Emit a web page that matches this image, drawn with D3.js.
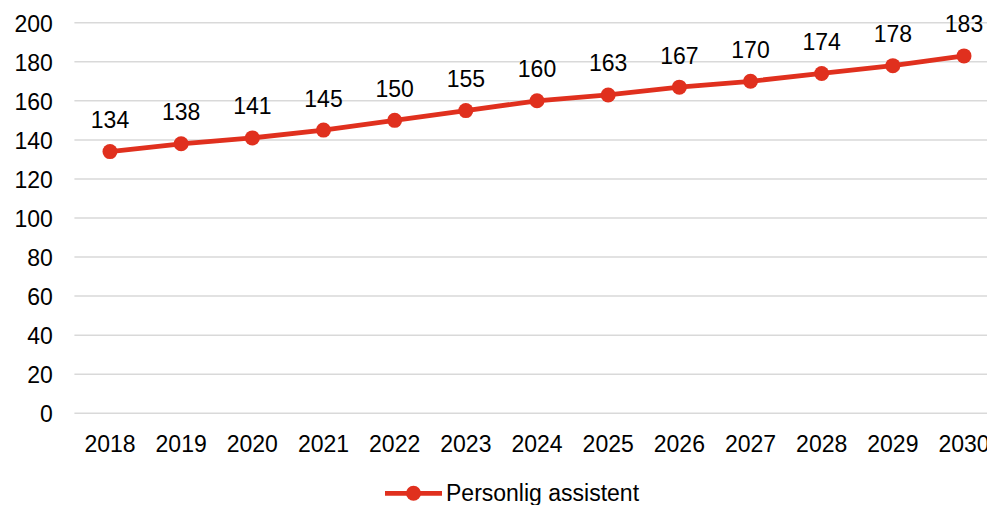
<!DOCTYPE html>
<html>
<head>
<meta charset="utf-8">
<script src="https://cdn.jsdelivr.net/npm/d3@7"></script>
<style>
  html, body { margin: 0; padding: 0; background: #fff; overflow: hidden; }
  svg { display: block; font-family: "Liberation Sans", Arial, sans-serif; }
</style>
</head>
<body>
<svg id="chart" width="987" height="505"></svg>
<script>
// Years and projected number of personal assistants
const years = ["2018","2019","2020","2021","2022","2023","2024","2025","2026","2027","2028","2029","2030"];
const values = [134, 138, 141, 145, 150, 155, 160, 163, 167, 170, 174, 178, 183];
const yTicks = [0, 20, 40, 60, 80, 100, 120, 140, 160, 180, 200];
const seriesName = "Personlig assistent";

const width = 987, height = 505;
const margin = { left: 74.4, top: 22.7, bottom: 413.3 };
const plotRight = 999.6;
const red = "#e0301e";
const fontSize = 23;

const svg = d3.select("#chart");

const x = d3.scaleBand().domain(years).range([margin.left, plotRight]);
const y = d3.scaleLinear().domain([0, 200]).range([margin.bottom, margin.top]);
const cx = d => x(d) + x.bandwidth() / 2;

// Horizontal gridlines
svg.append("g")
  .selectAll("line")
  .data(yTicks)
  .join("line")
  .attr("x1", margin.left)
  .attr("x2", width)
  .attr("y1", d => y(d))
  .attr("y2", d => y(d))
  .attr("stroke", "#d9d9d9")
  .attr("stroke-width", 1.5);

// Y axis labels
const yAxis = svg.append("g")
  .attr("transform", `translate(${margin.left - 21.5},0)`)
  .call(d3.axisLeft(y).tickValues(yTicks).tickSize(0).tickPadding(0));
yAxis.select(".domain").remove();
yAxis.selectAll("text")
  .attr("font-size", fontSize)
  .attr("font-family", "Liberation Sans, Arial, sans-serif")
  .attr("fill", "#000")
  .attr("dy", "0.37em");

// X axis labels
const xAxis = svg.append("g")
  .attr("transform", `translate(0,${margin.bottom + 38.2})`)
  .call(d3.axisBottom(x).tickSize(0).tickPadding(0));
xAxis.select(".domain").remove();
xAxis.selectAll("text")
  .attr("font-size", fontSize)
  .attr("font-family", "Liberation Sans, Arial, sans-serif")
  .attr("fill", "#000")
  .attr("y", 0)
  .attr("dy", 0);

// Series line
const line = d3.line()
  .x((d, i) => cx(years[i]))
  .y(d => y(d));

svg.append("path")
  .datum(values)
  .attr("d", line)
  .attr("fill", "none")
  .attr("stroke", red)
  .attr("stroke-width", 4.8)
  .attr("stroke-linejoin", "round");

// Markers
svg.append("g")
  .selectAll("circle")
  .data(values)
  .join("circle")
  .attr("cx", (d, i) => cx(years[i]))
  .attr("cy", d => y(d))
  .attr("r", 7.5)
  .attr("fill", red);

// Value labels
svg.append("g")
  .selectAll("text")
  .data(values)
  .join("text")
  .attr("x", (d, i) => cx(years[i]))
  .attr("y", d => y(d) - 23.5)
  .attr("text-anchor", "middle")
  .attr("font-size", fontSize)
  .attr("fill", "#000")
  .text(d => d);

// Legend
const legend = svg.append("g").attr("transform", "translate(385,493.3)");
legend.append("line")
  .attr("x1", 0).attr("x2", 57)
  .attr("y1", 0).attr("y2", 0)
  .attr("stroke", red).attr("stroke-width", 4.8);
legend.append("circle")
  .attr("cx", 28.5).attr("cy", 0).attr("r", 7.5).attr("fill", red);
legend.append("text")
  .attr("x", 61).attr("y", 7.8)
  .attr("font-size", fontSize)
  .attr("fill", "#000")
  .text(seriesName);
</script>
</body>
</html>
